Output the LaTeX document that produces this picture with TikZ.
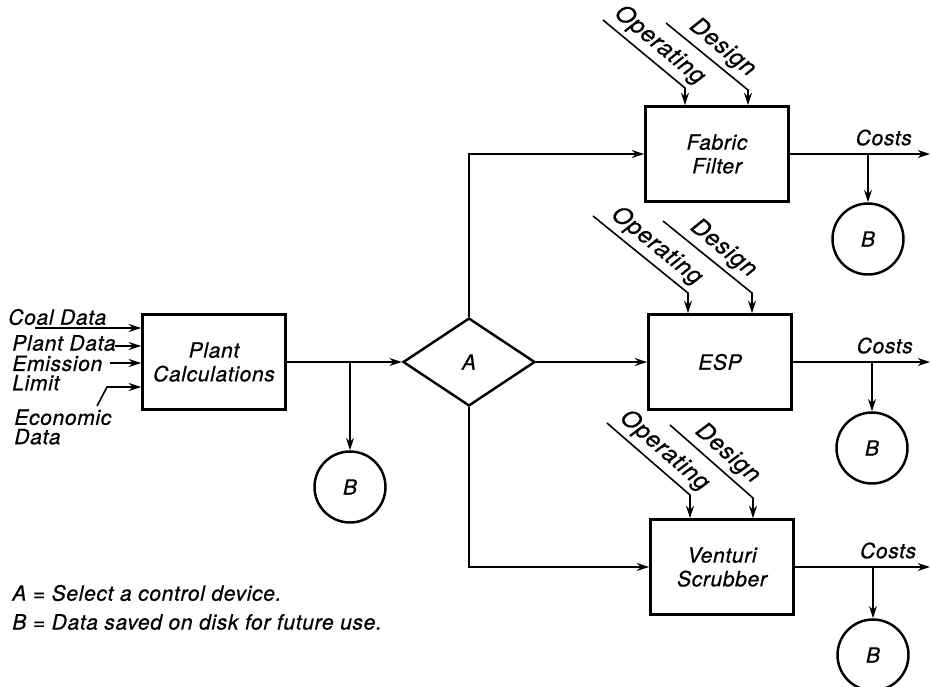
\documentclass[tikz,border=0pt]{standalone}
\usepackage{fontspec}
\setmainfont{TeX Gyre Heros}[LetterSpace=3, FakeBold=0.6]
\usetikzlibrary{arrows.meta,positioning,calc,shapes.geometric}

\begin{document}
\begin{tikzpicture}[x=0.02cm, y=-0.02cm,
    every node/.style={font=\fontsize{12}{13.5}\selectfont\itshape},
    unit/.style={draw, line width=1.6pt, minimum width=2.86cm, minimum height=1.9cm, align=center, inner sep=0pt},
    choice/.style={diamond, draw, line width=1.4pt, aspect=1.5, minimum width=2.64cm, minimum height=1.76cm, inner sep=0pt},
    disk/.style={circle, draw, line width=1.4pt, minimum size=1.42cm, inner sep=0pt},
    tag/.style={anchor=west, inner sep=0pt, align=left, font=\fontsize{12}{11}\selectfont\itshape},
    datalabel/.style={pos=0.56, above, sloped, inner sep=2.5pt, font=\fontsize{13.5}{15}\selectfont\itshape},
    flow/.style={line width=0.9pt, -{Stealth[length=7pt,width=4.5pt]}}]
    \useasboundingbox (0,0) rectangle (931,687);

    % blocks
    \node[unit] (plant) at (214,362) {Plant\\Calculations};
    \node[choice] (sel) at (469,362) {A};
    \node[unit] (fab) at (717,154) {Fabric\\Filter};
    \node[unit] (esp) at (720,362) {ESP};
    \node[unit] (ven) at (722,567) {Venturi\\Scrubber};

    \node[disk] (b0) at (350,487) {B};
    \node[disk] (b1) at (868,239) {B};
    \node[disk] (b2) at (872,448) {B};
    \node[disk] (b3) at (873,655) {B};

    % inputs to plant calculations
    \node[tag] (coal) at (8,317) {Coal Data};
    \node[tag] (pdat) at (12,343) {Plant Data};
    \node[tag] (emis) at (12,373) {Emission\\Limit};
    \node[tag] (econ) at (14,427) {Economic\\Data};

    \coordinate (c0) at (35,328);
    \coordinate (p0) at (115,346);
    \coordinate (e0) at (110,363);
    \coordinate (k0) at (97,406);
    \coordinate (k1) at (107,387);
    \draw[flow] (c0) -- (c0 -| plant.west);
    \draw[flow] (p0) -- (p0 -| plant.west);
    \draw[flow] (e0) -- (e0 -| plant.west);
    \draw[flow] (k0) -- (k1) -- (k1 -| plant.west);

    % main flow
    \coordinate (j0) at (350,362);
    \draw[flow] (plant) -- (sel);
    \draw[flow] (j0) -- (b0);
    \draw[flow] (sel.north) |- (fab.west);
    \draw[flow] (sel) -- (esp);
    \draw[flow] (sel.south) |- (ven.west);

    % outputs
    \coordinate (o1) at (930,154);
    \coordinate (o2) at (930,362);
    \coordinate (o3) at (930,567);
    \coordinate (j1) at (868,154);
    \coordinate (j2) at (872,362);
    \coordinate (j3) at (873,567);
    \draw[flow] (fab) -- (o1) node[pos=0.67, above=1pt] {Costs};
    \draw[flow] (esp) -- (o2) node[pos=0.67, above=1pt] {Costs};
    \draw[flow] (ven) -- (o3) node[pos=0.69, above=1pt] {Costs};
    \draw[flow] (j1) -- (b1);
    \draw[flow] (j2) -- (b2);
    \draw[flow] (j3) -- (b3);

    % operating and design data
    \coordinate (fo0) at (603,20);  \coordinate (fo1) at (685,88);
    \coordinate (fd0) at (666,23);  \coordinate (fd1) at (748,90);
    \coordinate (eo0) at (593,216); \coordinate (eo1) at (688,293);
    \coordinate (ed0) at (663,221); \coordinate (ed1) at (752,293);
    \coordinate (vo0) at (607,423); \coordinate (vo1) at (690,495);
    \coordinate (vd0) at (670,425); \coordinate (vd1) at (753,498);
    \draw[flow] (fo0) -- (fo1) node[datalabel] {Operating} -- (fo1 |- fab.north);
    \draw[flow] (fd0) -- (fd1) node[datalabel] {Design} -- (fd1 |- fab.north);
    \draw[flow] (eo0) -- (eo1) node[datalabel] {Operating} -- (eo1 |- esp.north);
    \draw[flow] (ed0) -- (ed1) node[datalabel] {Design} -- (ed1 |- esp.north);
    \draw[flow] (vo0) -- (vo1) node[datalabel] {Operating} -- (vo1 |- ven.north);
    \draw[flow] (vd0) -- (vd1) node[datalabel] {Design} -- (vd1 |- ven.north);

    % key
    \node[tag] (keya) at (12,593) {A = Select a control device.};
    \node[tag] (keyb) at (12,622) {B = Data saved on disk for future use.};
\end{tikzpicture}
\end{document}
